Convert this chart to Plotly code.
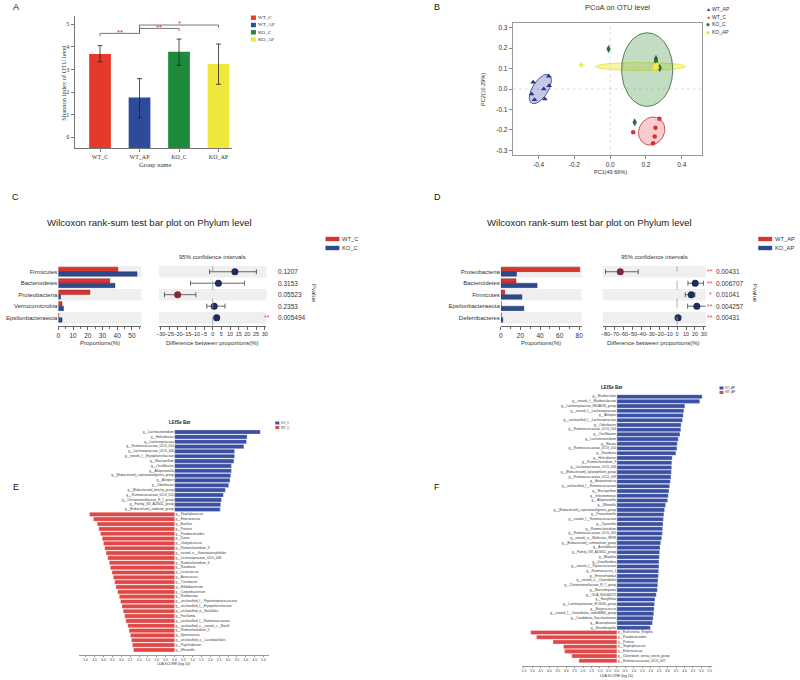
import numpy as np
import plotly.graph_objects as go

W, H = 800, 680

# ---------------- DATA ----------------
# Panel A: Shannon index
groups_a = ["WT_C", "WT_AP", "KO_C", "KO_AP"]
shannon = [3.69, 1.76, 3.79, 3.25]
shannon_err_hi = [0.37, 0.84, 0.56, 0.88]
shannon_err_lo = [0.35, 0.90, 0.60, 0.90]
colors_a = ["#E4392B", "#2E4A9B", "#1E8A3B", "#EFE83A"]

# Panel B: PCoA
pc_wt_ap_x = [-0.430, -0.343, -0.371, -0.341, -0.439, -0.423, -0.365]
pc_wt_ap_y = [0.033, 0.062, 0.000, 0.016, -0.025, -0.052, -0.049]
pc_wt_c_x = [0.275, 0.253, 0.249, 0.240, 0.129]
pc_wt_c_y = [-0.145, -0.190, -0.232, -0.265, -0.212]
pc_ko_c_x = [-0.009, 0.256, 0.256, 0.277, 0.137]
pc_ko_c_y = [0.196, 0.147, 0.136, 0.103, -0.163]
pc_ko_ap_x = [-0.162, 0.253, 0.262, 0.248, 0.258]
pc_ko_ap_y = [0.118, 0.111, 0.104, 0.100, 0.118]
# ellipses: centre x, centre y, semi-axis a, semi-axis b, angle (deg)
ell_wt_ap = [-0.390, 0.000, 0.085, 0.042, 52]
ell_wt_c = [0.232, -0.206, 0.076, 0.066, 30]
ell_ko_c = [0.207, 0.095, 0.143, 0.180, 0]
ell_ko_ap = [0.170, 0.110, 0.253, 0.020, 0]

# Panel C: Wilcoxon WT_C vs KO_C
phyla_c = ["Firmicutes", "Bacteroidetes", "Proteobacteria", "Verrucomicrobia", "Epsilonbacteraeota"]
prop_wt_c = [40.5, 35.0, 21.5, 2.5, 0.3]
prop_ko_c = [53.5, 38.5, 1.5, 3.5, 2.5]
diff_c = [12.8, 3.3, -20.2, 0.9, 2.3]
ci_lo_c = [-1.8, -12.8, -27.8, -3.4, 1.2]
ci_hi_c = [25.2, 18.3, -9.7, 7.1, 3.4]
pval_c = ["0.1207", "0.3153", "0.05523", "0.2353", "0.005494"]
star_c = ["", "", "", "", "**"]

# Panel D: Wilcoxon WT_AP vs KO_AP
phyla_d = ["Proteobacteria", "Bacteroidetes", "Firmicutes", "Epsilonbacteraeota", "Deferribacteres"]
prop_wt_ap = [80.5, 15.5, 4.0, 0.5, 0.5]
prop_ko_ap = [16.0, 37.0, 21.5, 23.5, 2.0]
diff_d = [-63.5, 20.3, 15.9, 22.1, 1.1]
ci_lo_d = [-80.0, 12.2, 9.2, 11.8, 0.2]
ci_hi_d = [-43.5, 29.5, 19.9, 34.3, 2.0]
pval_d = ["0.00431", "0.006707", "0.01041", "0.004257", "0.00431"]
star_d = ["**", "**", "*", "**", "**"]

# Panel E: LEfSe KO_C (blue) vs WT_C (red)
lefse_e_blue_names = ["g__Lachnoclostridium", "g__Helicobacter", "g__Lachnospiraceae", "g__Ruminococcaceae_UCG_014",
                      "g__Lachnospiraceae_UCG_006", "g__norank_f__Erysipelotrichaceae", "g__Mucispirillum",
                      "g__Oscillibacter", "g__Alloprevotella", "g__[Eubacterium]_coprostanoligenes_group",
                      "g__Alistipes", "g__Odoribacter", "g__[Eubacterium]_brachy_group", "g__Ruminococcaceae_UCG_010",
                      "g__Christensenellaceae_R_7_group", "g__Family_XIII_AD3011_group", "g__[Eubacterium]_nodatum_group"]
lefse_e_blue = [4.81, 4.07, 4.04, 3.89, 3.37, 3.37, 3.33, 3.19, 3.19, 3.15, 3.11, 3.04, 2.85, 2.74, 2.63, 2.59, 2.56]
lefse_e_red_names = ["g__Staphylococcus", "g__Enterococcus", "g__Bacillus", "g__Proteus", "g__Parabacteroides",
                     "g__Dorea", "g__Jeotgalicoccus", "g__Ruminiclostridium_9", "g__norank_o__Gastranaerophilales",
                     "g__Lachnospiraceae_UCG_008", "g__Ruminiclostridium_6", "g__Roseburia", "g__Lactococcus",
                     "g__Aerococcus", "g__Turicibacter", "g__Bifidobacterium", "g__Corynebacterium", "g__Romboutsia",
                     "g__unclassified_f__Peptostreptococcaceae", "g__unclassified_f__Erysipelotrichaceae",
                     "g__unclassified_o__Bacillales", "g__Facklamia", "g__unclassified_f__Ruminococcaceae",
                     "g__unclassified_c__norank_c__Bacilli", "g__Ruminiclostridium_5", "g__Sporosarcina",
                     "g__unclassified_o__Lactobacillales", "g__Psychrobacter", "g__Weissella"]
lefse_e_red = [4.78, 4.56, 4.35, 4.26, 4.17, 4.07, 4.00, 3.93, 3.85, 3.76, 3.67, 3.61, 3.52, 3.44, 3.37,
               3.30, 3.20, 3.11, 3.04, 2.96, 2.89, 2.81, 2.74, 2.63, 2.56, 2.48, 2.43, 2.37, 2.31]

# Panel F: LEfSe KO_AP (blue) vs WT_AP (red)
lefse_f_blue_names = ["g__Muribaculum", "g__norank_f__Muribaculaceae", "g__Lachnospiraceae_NK4A136_group",
                      "g__norank_f__Lachnospiraceae", "g__Alistipes", "g__unclassified_f__Lachnospiraceae",
                      "g__Odoribacter", "g__Ruminococcaceae_UCG_014", "g__Oscillibacter", "g__Lachnoclostridium",
                      "g__Blautia", "g__Ruminococcaceae_UCG_010", "g__Roseburia", "g__Helicobacter",
                      "g__Ruminiclostridium_9", "g__Lachnospiraceae_UCG_006", "g__[Eubacterium]_xylanophilum_group",
                      "g__Ruminococcaceae_UCG_009", "g__Anaerotruncus", "g__unclassified_f__Ruminococcaceae",
                      "g__Mucispirillum", "g__Intestinimonas", "g__Alloprevotella", "g__Rikenella",
                      "g__[Eubacterium]_coprostanoligenes_group", "g__Parasutterella", "g__norank_f__Ruminococcaceae",
                      "g__Tyzzerella", "g__Ruminiclostridium", "g__Ruminococcaceae_UCG_005",
                      "g__norank_o__Mollicutes_RF39", "g__[Eubacterium]_ruminantium_group", "g__Acetatifactor",
                      "g__Family_XIII_AD3011_group", "g__Bilophila", "g__Desulfovibrio", "g__norank_f__Peptococcaceae",
                      "g__Ruminococcus_1", "g__Enterorhabdus", "g__norank_o__Clostridiales",
                      "g__Christensenellaceae_R_7_group", "g__Marvinbryantia", "g__GCA_900066575", "g__Harryflintia",
                      "g__Lachnospiraceae_FCS020_group", "g__Butyricicoccus",
                      "g__norank_f__Clostridiales_vadinBB60_group", "g__Candidatus_Saccharimonas",
                      "g__Anaeroplasma", "g__Eisenbergiella"]
lefse_f_blue = [5.04, 4.90, 4.02, 3.96, 3.92, 3.88, 3.80, 3.78, 3.73, 3.63, 3.57, 3.55, 3.49, 3.27, 3.25,
                3.24, 3.22, 3.20, 3.16, 3.12, 3.08, 3.04, 3.00, 2.88, 2.82, 2.78, 2.75, 2.73, 2.71, 2.69,
                2.65, 2.59, 2.55, 2.53, 2.51, 2.49, 2.49, 2.47, 2.45, 2.43, 2.41, 2.39, 2.33, 2.25, 2.22,
                2.20, 2.18, 2.14, 2.10, 1.98]
lefse_f_red_names = ["g__Escherichia_Shigella", "g__Parabacteroides", "g__Proteus", "g__Staphylococcus",
                     "g__Enterococcus", "g__Clostridium_sensu_stricto_group", "g__Ruminococcaceae_UCG_007"]
lefse_f_red = [5.10, 4.76, 3.78, 3.16, 3.10, 2.67, 2.25]

# ---------------- helpers ----------------
def xd(a, b):
    return [a / W, b / W]

def yd(top, bottom):
    return [1 - bottom / H, 1 - top / H]

def px(x):
    return x / W

def py(y):
    return 1 - y / H

FONT = "Liberation Sans, Arial, sans-serif"
SERIF = "Liberation Serif, DejaVu Serif, serif"
RED = "#D8352F"
NAVY = "#2D4A8E"
fig = go.Figure()
shapes = []
annos = []

def txt(x, y, s, size=6, color="#333", xanchor="center", yanchor="middle", angle=0, family=FONT, xref="paper", yref="paper"):
    annos.append(dict(x=x, y=y, xref=xref, yref=yref, text=s, showarrow=False, xanchor=xanchor, yanchor=yanchor,
                      textangle=angle, borderpad=0, font=dict(size=size, color=color, family=family)))

# panel letters
for lab, xx, yy in [("A", 13, 7), ("B", 437, 7), ("C", 13, 197), ("D", 437, 197), ("E", 13, 487), ("F", 437, 487)]:
    txt(px(xx), py(yy), lab, size=9, color="#111")

# ---------------- Panel A ----------------
YMIN_A = -0.47
fig.add_bar(x=list(range(4)), y=[v - YMIN_A for v in shannon], base=YMIN_A, width=0.55,
            marker=dict(color=colors_a, line=dict(width=0)),
            error_y=dict(type="data", array=shannon_err_hi, arrayminus=shannon_err_lo, color="#222", thickness=0.8, width=2.5),
            xaxis="x", yaxis="y")
brk = "#555"
for (x0, x1, yb, d0, d1) in [(0, 1, 4.60, 4.48, 4.60), (1, 2, 4.82, 4.60, 4.70), (1, 3, 4.97, 4.60, 4.85)]:
    shapes.append(dict(type="line", xref="x", yref="y", x0=x0, x1=x1, y0=yb, y1=yb, line=dict(color=brk, width=0.8)))
    shapes.append(dict(type="line", xref="x", yref="y", x0=x0, x1=x0, y0=d0, y1=yb, line=dict(color=brk, width=0.8)))
    shapes.append(dict(type="line", xref="x", yref="y", x0=x1, x1=x1, y0=d1, y1=yb, line=dict(color=brk, width=0.8)))
for (xs, ys, s) in [(0.5, 4.66, "**"), (1.5, 4.88, "**"), (2.0, 5.04, "*")]:
    txt(xs, ys, s, size=8, color="#E0302A", xref="x", yref="y")
txt(px(60), py(83), "Shannon index of OTU level", size=6.5, angle=-90, family=SERIF)
txt(px(153), py(164), "Group name", size=6.5, family=SERIF)
for i, (g, c) in enumerate(zip(groups_a, colors_a)):
    yy = 17.7 + i * 7.3
    shapes.append(dict(type="rect", xref="paper", yref="paper", x0=px(249.5), x1=px(254.5), y0=py(yy + 2.2), y1=py(yy - 2.2),
                       fillcolor=c, line=dict(width=0)))
    txt(px(256), py(yy), g, size=5, xanchor="left", family=SERIF)

# ---------------- Panel B ----------------
def ellipse(p, n=120):
    cx, cy, a, b, ang = p
    t = np.linspace(0, 2 * np.pi, n)
    th = np.deg2rad(ang)
    xs = cx + a * np.cos(t) * np.cos(th) - b * np.sin(t) * np.sin(th)
    ys = cy + a * np.cos(t) * np.sin(th) + b * np.sin(t) * np.cos(th)
    return xs, ys

for p, fc, lc in [(ell_ko_ap, "rgba(240,236,90,0.55)", "#E6DF3A"),
                  (ell_ko_c, "rgba(120,180,120,0.45)", "#2B5E33"),
                  (ell_wt_ap, "rgba(110,120,200,0.40)", "#2C3A8A"),
                  (ell_wt_c, "rgba(240,130,130,0.40)", "#B03030")]:
    ex, ey = ellipse(p)
    fig.add_scatter(x=ex, y=ey, mode="lines", fill="toself", fillcolor=fc, line=dict(color=lc, width=0.8),
                    xaxis="x2", yaxis="y2", hoverinfo="skip")
shapes.append(dict(type="line", xref="x2", yref="y2 domain", x0=0, x1=0, y0=0, y1=1, layer="below",
                   line=dict(color="#CCCCCC", width=0.7, dash="dot")))
shapes.append(dict(type="line", xref="x2 domain", yref="y2", x0=0, x1=1, y0=0, y1=0, layer="below",
                   line=dict(color="#CCCCCC", width=0.7, dash="dot")))
fig.add_scatter(x=pc_wt_ap_x, y=pc_wt_ap_y, mode="markers", marker=dict(symbol="triangle-up", size=5, color="#2B3585"),
                xaxis="x2", yaxis="y2")
fig.add_scatter(x=pc_wt_c_x, y=pc_wt_c_y, mode="markers", marker=dict(symbol="circle", size=4.5, color="#D8303A"),
                xaxis="x2", yaxis="y2")
fig.add_scatter(x=pc_ko_c_x, y=pc_ko_c_y, mode="markers", marker=dict(symbol="diamond-tall", size=5, color="#1E7A3A",
                line=dict(color="#1C3A2A", width=0.5)), xaxis="x2", yaxis="y2")
fig.add_scatter(x=pc_ko_ap_x, y=pc_ko_ap_y, mode="markers", marker=dict(symbol="diamond", size=4, color="#F2EC3C"),
                xaxis="x2", yaxis="y2")
txt(px(618), py(8), "PCoA on OTU level", size=7.5, color="#333")
txt(px(611), py(172), "PC1(49.66%)", size=5.5)
txt(px(483), py(89), "PC2(10.29%)", size=5.5, angle=-90)
for i, (lab, sym, c) in enumerate([("WT_AP", "▲", "#2B3585"), ("WT_C", "●", "#D8303A"), ("KO_C", "◆", "#1E7A3A"), ("KO_AP", "◆", "#E8E23A")]):
    yy = 9.3 + i * 7.6
    txt(px(709.5), py(yy), sym, size=5, color=c)
    txt(px(712.5), py(yy), lab, size=5, xanchor="left")

# ---------------- Panels C & D ----------------
def wilcoxon(names, pa, pb, diff, lo, hi, pvals, stars, xl, xr, yl, yr, ci_x, p_x, star_x, leg_x, leg_lab, cx_title, px_title, pv_x):
    n = len(names)
    rows = list(range(n))
    fig.add_bar(y=rows, x=pa, orientation="h", width=0.39, offset=-0.40,
                marker=dict(color=RED, line=dict(color="#7A1A1A", width=0.4)), xaxis=xl, yaxis=yl)
    fig.add_bar(y=rows, x=pb, orientation="h", width=0.39, offset=0.0,
                marker=dict(color=NAVY, line=dict(color="#1A2A50", width=0.4)), xaxis=xl, yaxis=yl)
    cols = ["#8A2535" if d < 0 else "#1F2B5C" for d in diff]
    fig.add_scatter(x=diff, y=rows, mode="markers", marker=dict(size=7, color=cols),
                    error_x=dict(type="data", array=[h - d for h, d in zip(hi, diff)],
                                 arrayminus=[d - l for d, l in zip(diff, lo)], color="#444", thickness=0.8, width=2.5),
                    xaxis=xr, yaxis=yr, cliponaxis=False)
    for i in range(0, n, 2):
        for ax in (xl, xr):
            shapes.append(dict(type="rect", xref=ax + " domain", yref=yl if ax == xl else yr, x0=0, x1=1,
                               y0=i - 0.5, y1=i + 0.5, fillcolor="#EFEFEF", line=dict(width=0), layer="below"))
    shapes.append(dict(type="line", xref=xr, yref=yr + " domain", x0=0, x1=0, y0=0, y1=1,
                       line=dict(color="#999", width=0.8, dash="dash")))
    for i in rows:
        txt(px(p_x), i, pvals[i], size=6.5, xanchor="left", yref=yr)
        if stars[i]:
            txt(px(star_x), i, stars[i], size=7, color="#E04858", yref=yr)
    txt(px(pv_x), py(293), "Pvalue", size=6, angle=90)
    txt(px(ci_x), py(257), "95% confidence intervals", size=6)
    txt(px(cx_title), py(343), "Proportions(%)", size=6)
    txt(px(px_title), py(343), "Difference between proportions(%)", size=6)
    for j, (lab, c) in enumerate(zip(leg_lab, [RED, NAVY])):
        yy = 239 + j * 9
        shapes.append(dict(type="rect", xref="paper", yref="paper", x0=px(leg_x), x1=px(leg_x + 14), y0=py(yy + 2.2),
                           y1=py(yy - 2.2), fillcolor=c, line=dict(width=0)))
        txt(px(leg_x + 15.5), py(yy), lab, size=5.8, xanchor="left")

wilcoxon(phyla_c, prop_wt_c, prop_ko_c, diff_c, ci_lo_c, ci_hi_c, pval_c, star_c, "x3", "x4", "y3", "y4",
         211, 276, 266, 324.5, ["WT_C", "KO_C"], 98, 211, 313)
wilcoxon(phyla_d, prop_wt_ap, prop_ko_ap, diff_d, ci_lo_d, ci_hi_d, pval_d, star_d, "x5", "x6", "y5", "y6",
         656, 716.7, 711.7, 760, ["WT_AP", "KO_AP"], 541, 655, 757)
txt(px(147), py(223), "Wilcoxon rank-sum test bar plot on Phylum level", size=9.6, color="#222")
txt(px(590), py(223), "Wilcoxon rank-sum test bar plot on Phylum level", size=9.6, color="#222")

# ---------------- Panels E & F ----------------
BLUE_L = "#3B4FA3"
RED_L = "#E04848"

def lefse(bn, bv, rn, rv, xa, ya, title_xy, leg_xy, leg_lab):
    nb, nr = len(bv), len(rv)
    rows = list(range(nb + nr))
    fig.add_bar(y=rows, x=list(bv) + [-v for v in rv], orientation="h", width=0.86,
                marker=dict(color=[BLUE_L] * nb + [RED_L] * nr, line=dict(color="white", width=0.3)),
                xaxis=xa, yaxis=ya)
    fig.add_scatter(x=[-0.05] * nb, y=rows[:nb], mode="text", text=bn, textposition="middle left",
                    textfont=dict(size=3.2, color="#333", family=FONT), xaxis=xa, yaxis=ya, cliponaxis=False)
    fig.add_scatter(x=[0.05] * nr, y=rows[nb:], mode="text", text=rn, textposition="middle right",
                    textfont=dict(size=3.2, color="#333", family=FONT), xaxis=xa, yaxis=ya, cliponaxis=False)
    txt(px(title_xy[0]), py(title_xy[1]), "<b>LEfSe Bar</b>", size=4.5, color="#222")
    for j, (lab, c) in enumerate(zip(leg_lab, [BLUE_L, RED_L])):
        yy = leg_xy[1] + j * 4.5
        shapes.append(dict(type="rect", xref="paper", yref="paper", x0=px(leg_xy[0]), x1=px(leg_xy[0] + 4),
                           y0=py(yy + 1.5), y1=py(yy - 1.5), fillcolor=c, line=dict(width=0)))
        txt(px(leg_xy[0] + 5), py(yy), lab, size=3, xanchor="left")

lefse(lefse_e_blue_names, lefse_e_blue, lefse_e_red_names, lefse_e_red, "x7", "y7", (178, 422), (274, 423), ["KO_C", "WT_C"])
lefse(lefse_f_blue_names, lefse_f_blue, lefse_f_red_names, lefse_f_red, "x8", "y8", (613, 387), (721, 388), ["KO_AP", "WT_AP"])
txt(px(172), py(663.5), "LDA SCORE (log 10)", size=3.5)
txt(px(617.7), py(675.5), "LDA SCORE (log 10)", size=3.5)

# ---------------- axes ----------------
def base(**kw):
    d = dict(showgrid=False, zeroline=False, tickangle=0, tickfont=dict(size=6.5, color="#333", family=FONT))
    d.update(kw)
    return d

lefse_ticks = [round(-5 + 0.5 * i, 1) for i in range(21)]
lefse_ticks_f = [round(-5.5 + 0.5 * i, 1) for i in range(23)]
fig.update_layout(
    width=W, height=H, margin=dict(l=0, r=0, t=0, b=0), paper_bgcolor="white", plot_bgcolor="rgba(0,0,0,0)",
    showlegend=False, barmode="overlay", font=dict(family=FONT, size=6, color="#333"),
    xaxis=base(domain=xd(72, 230), range=[-0.645, 3.33], tickvals=[0, 1, 2, 3], ticktext=groups_a, ticks="outside",
               ticklen=3, tickcolor="#777", showline=True, linecolor="#777", anchor="y",
               tickfont=dict(size=6, family=SERIF, color="#333")),
    yaxis=base(domain=yd(16, 148), range=[YMIN_A, 5.37], tickvals=[0, 1, 2, 3, 4, 5], ticks="outside", ticklen=3,
               tickcolor="#777", showline=True, linecolor="#777", anchor="x",
               tickfont=dict(size=6, family=SERIF, color="#333")),
    xaxis2=base(domain=xd(513, 703), range=[-0.544, 0.511], tickvals=[-0.4, -0.2, 0, 0.2, 0.4],
                ticktext=["-0.4", "-0.2", "0.0", "0.2", "0.4"], ticks="outside", ticklen=3, tickcolor="#888",
                showline=True, mirror=True, linecolor="#999", anchor="y2"),
    yaxis2=base(domain=yd(23, 155), range=[-0.323, 0.323], tickvals=[-0.3, -0.2, -0.1, 0, 0.1, 0.2, 0.3],
                ticktext=["-0.3", "-0.2", "-0.1", "0.0", "0.1", "0.2", "0.3"], ticks="outside", ticklen=3,
                tickcolor="#888", showline=True, mirror=True, linecolor="#999", anchor="x2"),
    xaxis3=base(domain=xd(55.7, 139.3), range=[0, 56.5], tickvals=[0, 10, 20, 30, 40, 50], ticks="outside", ticklen=3,
                tickcolor="#666", showline=True, linecolor="#666", anchor="y3",
                minor=dict(dtick=5, ticks="outside", ticklen=2, tickcolor="#666")),
    yaxis3=base(domain=yd(266, 325.7), range=[4.7, -0.5], tickvals=list(range(5)), ticktext=phyla_c, ticks="",
                anchor="x3", tickfont=dict(size=6, color="#333", family=FONT)),
    xaxis4=base(domain=xd(156.9, 265.1), range=[-31, 31], tickvals=list(range(-30, 31, 5)), ticks="outside", ticklen=3,
                tickcolor="#666", showline=True, linecolor="#666", anchor="y4",
                tickfont=dict(size=5.5, color="#333", family=FONT)),
    yaxis4=base(domain=yd(266, 325.7), range=[4.7, -0.5], showticklabels=False, anchor="x4"),
    xaxis5=base(domain=xd(501, 582.3), range=[0, 82.5], tickvals=[0, 20, 40, 60, 80], ticks="outside", ticklen=3,
                tickcolor="#666", showline=True, linecolor="#666", anchor="y5",
                minor=dict(dtick=10, ticks="outside", ticklen=2, tickcolor="#666")),
    yaxis5=base(domain=yd(266, 325.7), range=[4.7, -0.5], tickvals=list(range(5)), ticktext=phyla_d, ticks="",
                anchor="x5", tickfont=dict(size=6, color="#333", family=FONT)),
    xaxis6=base(domain=xd(603.6, 707.1), range=[-83, 32], tickvals=list(range(-80, 31, 10)), ticks="outside", ticklen=3,
                tickcolor="#666", showline=True, linecolor="#666", anchor="y6",
                tickfont=dict(size=5.5, color="#333", family=FONT)),
    yaxis6=base(domain=yd(266, 325.7), range=[4.7, -0.5], showticklabels=False, anchor="x6"),
    xaxis7=base(domain=xd(76.7, 268), range=[-5.36, 5.32], tickvals=lefse_ticks,
                ticktext=["%.1f" % abs(v) for v in lefse_ticks], ticks="outside", ticklen=1.5, tickcolor="#888",
                showline=True, linecolor="#999", linewidth=0.6, anchor="y7",
                tickfont=dict(size=3.3, color="#333", family=FONT)),
    yaxis7=base(domain=yd(429.6, 655), range=[46.04, -0.5], showticklabels=False, anchor="x7"),
    xaxis8=base(domain=xd(522, 713), range=[-5.63, 5.6], tickvals=lefse_ticks_f,
                ticktext=["%.1f" % abs(v) for v in lefse_ticks_f], ticks="outside", ticklen=1.5, tickcolor="#888",
                showline=True, linecolor="#999", linewidth=0.6, anchor="y8",
                tickfont=dict(size=3.3, color="#333", family=FONT)),
    yaxis8=base(domain=yd(394.3, 666), range=[57.1, -0.5], showticklabels=False, anchor="x8"),
    shapes=shapes, annotations=annos,
)

fig.write_html("out.html", config={"displayModeBar": False}, post_script="document.body.style.margin='0px';")
